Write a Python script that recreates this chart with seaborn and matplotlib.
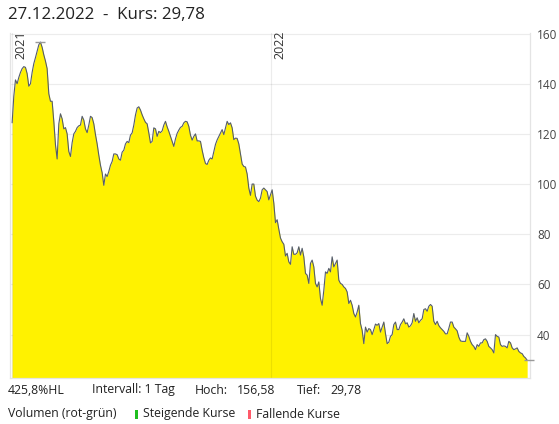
import pandas as pd
import numpy as np
import matplotlib.pyplot as plt
import matplotlib.dates as mdates
from matplotlib.patches import Rectangle
from matplotlib.transforms import blended_transform_factory
import seaborn as sns

# ─── DATA (Tageskurse) ────────────────────────────────
kurs_a = [124.4, 135, 141.5, 140, 142.5, 144.5, 146, 146.8, 146.5, 144,
          139, 140, 144.5, 148, 150.4, 153, 155.5, 156.58, 154.5, 151.5,
          149, 146, 136, 133, 133, 125, 115.7, 110, 124, 128,
          126, 122, 122.5, 120, 113, 111, 116.5, 120, 121, 122.5,
          123.2, 123.5, 127, 125.5, 122, 120.5, 123.5, 127, 126.5, 124,
          119.7, 116, 111.5, 107.5, 104.5, 99.5, 104, 103, 105, 107.5,
          109, 112, 112, 111.7, 110, 109.5, 112.7, 113.5, 116, 117,
          116.5, 119.5, 120.4, 123.5, 127.5, 130.3, 130.8]
kurs_b = [129.5, 127.6, 126, 124.6, 124, 120.4, 116.4, 117, 122.4, 122,
          119, 121, 120.5, 121.2, 123.5, 125, 122.8, 121, 119, 117,
          115, 118, 120.2, 121.5, 122.6, 123, 124.4, 125, 124.8, 123,
          119.5, 117.5, 119, 120, 117.2, 117.2, 117, 113.5, 110.5, 108.2,
          107.8, 109.5, 110.4, 110, 113, 115.8, 117.6, 119, 120.4, 121.7,
          119.7, 122.4, 125, 123.7, 124.4, 122.4, 117.7, 118.3, 118.2, 116,
          112, 108, 107, 106.8, 104, 98.4, 95.5, 100, 100, 95.2,
          93.6, 93, 94.4, 97.7, 98.4, 97.7, 97, 93.7, 95.7, 97.7,
          92.4]
kurs_c = [84.6, 85.8, 82, 78.5, 77, 76, 71.3, 72.4, 69, 68,
          75, 72, 72, 72.6, 75, 71.7, 74.4, 71, 64.4, 63.7,
          60.4, 68.4, 69.7, 67, 60.4, 59, 61, 54.4, 51.7, 57.7,
          65, 64.4, 66.4, 65, 71, 67, 68.4, 69.7, 61.7, 60.4,
          60, 59, 58.4, 57, 52.4, 53.7, 51.7, 48.4, 47, 49,
          51.7, 44.4, 41.7, 36.4, 43, 41, 42.4, 42, 40, 42,
          44.2, 43.7, 44.4, 41, 43, 45, 40.4, 36.4, 37]
kurs_d = [39.3, 40, 44, 45, 42, 42, 44, 45, 46.3, 44.3,
          44.7, 43, 43.5, 44.7, 48.4, 45.3, 46.7, 44.7, 45.7, 46.3,
          50, 50.3, 49.3, 51.3, 52, 51.3, 45.3, 44, 45.3, 43.6,
          42.7, 42, 41.3, 40.3, 40.3, 42.5, 45, 45, 43, 42.3,
          41.5, 39, 37.5, 37.3, 37.3, 37.3, 40.7, 39.3, 37.3, 36,
          35.3, 34, 36, 35.3, 36.7, 36.7, 38, 38.3, 37.3, 35.3,
          34.7, 34, 32.7, 40, 39.3, 39, 36, 35.3, 35.5, 35.3,
          34.7, 37.3, 36.7, 34.7, 34, 34.3, 34.7, 33.3, 32.7, 32.4,
          31.3, 30.7, 29.78]
kurs = kurs_a + kurs_b + kurs_c + kurs_d

start, ende = "2021-01-01", "2022-12-27"
jahre = ["2021", "2022"]
y_ticks = [40, 60, 80, 100, 120, 140, 160]

df = pd.DataFrame({
    "datum": pd.date_range(start, ende, periods=len(kurs)),
    "kurs": kurs,
})


def de(v):
    return f"{v:.2f}".replace('.', ',')


# ─── STYLE ────────────────────────────────────────────
sns.set_theme(style="white")
plt.rcParams['font.family'] = ['Open Sans', 'DejaVu Sans']
GELB = '#fff200'
LINIE = '#555d6a'
GRID = '#000000'

fig = plt.figure(figsize=(5.59, 4.24), dpi=100)
ax = fig.add_axes([10 / 559, 46 / 424, 520 / 559, 345 / 424])

ax.fill_between(df["datum"], df["kurs"], 0, color=GELB, lw=0, zorder=1)
sns.lineplot(data=df, x="datum", y="kurs", ax=ax, color=LINIE, lw=0.8, zorder=3)

ax.set_ylim(22.7, 160.2)
ax.set_xlim(pd.Timestamp("2020-12-29"), pd.Timestamp("2022-12-31"))
ax.set_yticks(y_ticks)
ax.yaxis.tick_right()
ax.tick_params(axis='y', length=0, pad=5, labelsize=8.5, labelcolor='#444444')
ax.set_xticks([])
ax.set_xlabel('')
ax.set_ylabel('')
ax.grid(axis='y', color=GRID, alpha=0.075, lw=0.9, zorder=2)

for side in ['left', 'right', 'bottom']:
    ax.spines[side].set_color('#e4e4e4')
    ax.spines[side].set_linewidth(0.9)
ax.spines['top'].set_visible(False)

# Jahreslinien
trans = blended_transform_factory(ax.transData, ax.transAxes)
for j in jahre:
    d = pd.Timestamp(f"{j}-01-01")
    ax.axvline(d, color=GRID, alpha=0.075, lw=0.9, zorder=2)
    ax.annotate(j, xy=(mdates.date2num(d), 1.0), xycoords=trans,
                xytext=(2.5, 2.5), textcoords='offset pixels',
                rotation=90, ha='left', va='top', fontsize=9,
                color='#333333', annotation_clip=False)

# Hoch / Tief Markierungen
i_hoch = int(np.argmax(kurs))
i_tief = int(np.argmin(kurs))
for i, links, rechts in [(i_hoch, 7, 7), (i_tief, 5, 10)]:
    d = df["datum"].iloc[i]
    ax.hlines(kurs[i], d - pd.Timedelta(days=links), d + pd.Timedelta(days=rechts),
              color='#999999', lw=1.0, zorder=4, clip_on=False)

# ─── TEXTE ────────────────────────────────────────────
W, H = 559, 424


def ftext(x, y, s, **kw):
    fig.text(x / W, 1 - y / H, s, va='center', ha='left', **kw)


letzter = df["datum"].iloc[-1]
ftext(8, 15, f"{letzter:%d.%m.%Y}  -  Kurs: {de(kurs[-1])}",
      fontsize=12.2, color='#222222')

hoch, tief = max(kurs), min(kurs)
spanne = (hoch - tief) / tief * 100
fs = 8.8
col = '#222222'
ftext(8, 390, f"{spanne:.1f}%HL".replace('.', ','), fontsize=fs, color=col)
ftext(92, 390, "Intervall: 1 Tag", fontsize=fs, color=col)
ftext(195, 390, "Hoch:", fontsize=fs, color=col)
ftext(237, 390, de(hoch), fontsize=fs, color=col)
ftext(297, 390, "Tief:", fontsize=fs, color=col)
ftext(330, 390, de(tief), fontsize=fs, color=col)

ftext(8, 414, "Volumen (rot-grün)", fontsize=fs, color=col)
fig.patches.append(Rectangle((135 / W, 1 - 419 / H), 2.7 / W, 9.5 / H,
                             transform=fig.transFigure, color='#1fbf1f', lw=0))
ftext(143, 414, "Steigende Kurse", fontsize=fs, color=col)
fig.patches.append(Rectangle((248 / W, 1 - 419 / H), 2.7 / W, 9.5 / H,
                             transform=fig.transFigure, color='#ff5a6a', lw=0))
ftext(256.5, 414, "Fallende Kurse", fontsize=fs, color=col)

fig.savefig("out.png", dpi=100)
